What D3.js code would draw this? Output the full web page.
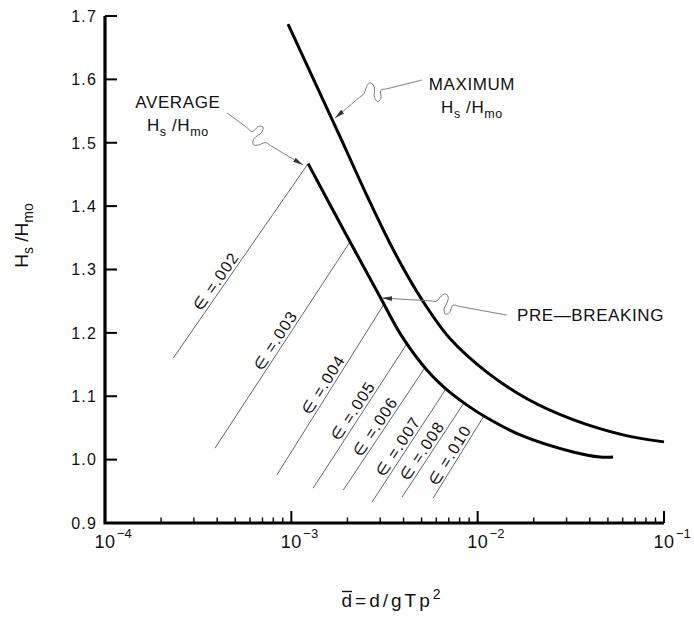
<!DOCTYPE html>
<html>
<head>
<meta charset="utf-8">
<script src="https://cdn.jsdelivr.net/npm/d3@7"></script>
<style>
  html, body { margin: 0; padding: 0; background: #fff; }
  svg { display: block; font-family: "Liberation Sans", Arial, Helvetica, sans-serif; }
</style>
</head>
<body>
<svg id="chart" width="694" height="618"></svg>
<script>
// Significant wave height ratio H_s/H_mo against relative depth d/gTp^2

// Upper envelope: maximum H_s/H_mo
const maximumCurve = [
  [0.00096, 1.687], [0.00183, 1.509], [0.00255, 1.416], [0.0036, 1.326],
  [0.00503, 1.252], [0.0071, 1.191], [0.0112, 1.138], [0.0184, 1.096],
  [0.0325, 1.063], [0.0603, 1.039], [0.1, 1.028]
];

// Lower curve: average H_s/H_mo (pre-breaking)
const averageCurve = [
  [0.00123, 1.467], [0.00201, 1.350], [0.00299, 1.257], [0.00393, 1.194],
  [0.00535, 1.141], [0.00685, 1.110], [0.00877, 1.086], [0.0112, 1.066],
  [0.0169, 1.039], [0.0325, 1.012], [0.0454, 1.004], [0.0533, 1.004]
];

// Constant-steepness lines: label, lower end (d, H_s/H_mo), and the depth where each meets the average curve
const epsilonLabels = [".002", ".003", ".004", ".005", ".006", ".007", ".008", ".010"];
const epsilonStart = [
  [0.000232, 1.160], [0.000389, 1.018], [0.000837, 0.976], [0.00131, 0.955],
  [0.00190, 0.952], [0.00271, 0.933], [0.00393, 0.941], [0.00576, 0.939]
];
const epsilonEndX = [0.00123, 0.002065, 0.003144, 0.00418, 0.005218, 0.00676, 0.008446, 0.01081];

// Axis ticks
const yTicks = [0.9, 1.0, 1.1, 1.2, 1.3, 1.4, 1.5, 1.6, 1.7];
const yTickLabels = ["0.9", "1.0", "1.1", "1.2", "1.3", "1.4", "1.5", "1.6", "1.7"];
const xDecades = [1e-4, 1e-3, 1e-2, 1e-1];
const xDecadeExponents = ["\u22124", "\u22123", "\u22122", "\u22121"];

// Callouts: text lines, anchor of the text (d, H_s/H_mo), and leader start / squiggle / tip
const calloutNames = ["AVERAGE", "MAXIMUM", "PRE-BREAKING"];
const calloutText = [
  [["AVERAGE"], ["H", "s", " /H", "mo"]],
  [["MAXIMUM"], ["H", "s", " /H", "mo"]],
  [["PRE\u2014BREAKING"]]
];
const calloutAnchor = [[0.000246, 1.5548], [0.00932, 1.5832], [0.01626, 1.2187]];
const leaderStart = [[0.000452, 1.547], [0.00503, 1.599], [0.01437, 1.228]];
const leaderKink  = [[0.000662, 1.511], [0.00278, 1.580], [0.00676, 1.2456]];
const leaderTip   = [[0.001155, 1.465], [0.001715, 1.539], [0.003066, 1.255]];

// ---------------------------------------------------------------
const W = 694, H = 618;
const margin = { top: 16, right: 30, bottom: 95, left: 105 };

const svg = d3.select("#chart");

const x = d3.scaleLog().domain([1e-4, 1e-1]).range([margin.left, W - margin.right]);
const y = d3.scaleLinear().domain([0.9, 1.7]).range([H - margin.bottom, margin.top]);

const ink = "#111";
const thin = "#666";

// arrowhead for the leaders
svg.append("defs").append("marker")
  .attr("id", "arrow")
  .attr("viewBox", "0 0 10 6")
  .attr("refX", 10).attr("refY", 3)
  .attr("markerWidth", 10).attr("markerHeight", 6)
  .attr("markerUnits", "userSpaceOnUse")
  .attr("orient", "auto")
  .append("path").attr("d", "M0,0.6 L10,3 L0,5.4 Z").attr("fill", "#333");

// ---- constant-epsilon lines ----
function averageAt(xv) {
  const lx = Math.log10(xv);
  for (let i = 0; i < averageCurve.length - 1; i++) {
    const a = averageCurve[i], b = averageCurve[i + 1];
    const la = Math.log10(a[0]), lb = Math.log10(b[0]);
    if (lx >= la && lx <= lb) return a[1] + (b[1] - a[1]) * (lx - la) / (lb - la);
  }
  return averageCurve[lx < Math.log10(averageCurve[0][0]) ? 0 : averageCurve.length - 1][1];
}

const labelPos = [0.37, 0.5, 0.5, 0.5, 0.48, 0.45, 0.44, 0.47];
const epsG = svg.append("g");
epsilonLabels.forEach((lab, i) => {
  const p0 = [x(epsilonStart[i][0]), y(epsilonStart[i][1])];
  const p1 = [x(epsilonEndX[i]), y(averageAt(epsilonEndX[i]))];
  epsG.append("line")
    .attr("x1", p0[0]).attr("y1", p0[1]).attr("x2", p1[0]).attr("y2", p1[1])
    .attr("stroke", thin).attr("stroke-width", 1);
  const dx = p1[0] - p0[0], dy = p1[1] - p0[1], L = Math.hypot(dx, dy);
  const ux = dx / L, uy = dy / L;
  const t = labelPos[i];
  const off = 3;
  const cx = p0[0] + dx * t + uy * off, cy = p0[1] + dy * t - ux * off;
  const ang = Math.atan2(dy, dx) * 180 / Math.PI;
  epsG.append("text")
    .attr("transform", `translate(${cx},${cy}) rotate(${ang})`)
    .attr("text-anchor", "middle")
    .attr("font-size", 16).attr("letter-spacing", 1.2)
    .attr("fill", ink)
    .text("\u2208 =" + lab);
});

// ---- curves ----
const line = d3.line().x(d => x(d[0])).y(d => y(d[1])).curve(d3.curveCatmullRom.alpha(0.5));
svg.append("path").datum(maximumCurve).attr("d", line)
  .attr("fill", "none").attr("stroke", "#000").attr("stroke-width", 3);
svg.append("path").datum(averageCurve).attr("d", line)
  .attr("fill", "none").attr("stroke", "#000").attr("stroke-width", 3);

// ---- axes ----
const axG = svg.append("g");
const x0 = x(1e-4), x1 = x(1e-1), yB = y(0.9), yT = y(1.7);
axG.append("path")
  .attr("d", `M${x0},${yT} V${yB} H${x1}`)
  .attr("fill", "none").attr("stroke", "#000").attr("stroke-width", 3.2)
  .attr("stroke-linejoin", "miter");

// y ticks (inward) and labels
yTicks.forEach((v, i) => {
  axG.append("line").attr("x1", x0).attr("x2", x0 + 12).attr("y1", y(v)).attr("y2", y(v))
    .attr("stroke", "#000").attr("stroke-width", 2);
  axG.append("text").attr("x", x0 - 8).attr("y", y(v)).attr("dy", "0.36em")
    .attr("text-anchor", "end").attr("font-size", 16).attr("letter-spacing", 1.2)
    .attr("fill", ink).text(yTickLabels[i]);
});

// x ticks: decades long, intermediate values short
const allTicks = x.ticks();
allTicks.forEach(v => {
  const isMajor = xDecades.some(d => Math.abs(v / d - 1) < 1e-6);
  if (Math.abs(v / 1e-4 - 1) < 1e-6) return;
  axG.append("line").attr("x1", x(v)).attr("x2", x(v))
    .attr("y1", yB).attr("y2", yB - (isMajor ? 12 : 5.5))
    .attr("stroke", "#000").attr("stroke-width", isMajor ? 2 : 1.4);
});

xDecades.forEach((d, i) => {
  const base = axG.append("text").attr("x", x(d)).attr("y", yB + 25)
    .attr("text-anchor", "middle").attr("font-size", 18).attr("letter-spacing", 0.5)
    .attr("fill", ink).text("10");
  const w = base.node().getComputedTextLength();
  axG.append("text").attr("x", x(d) + w / 2 + 1.5).attr("y", yB + 15)
    .attr("font-size", 13).attr("fill", ink).text(xDecadeExponents[i]);
});

// ---- axis titles ----
const yTitle = svg.append("text")
  .attr("transform", `translate(${28},${(yT + yB) / 2 - 34}) rotate(-90)`)
  .attr("text-anchor", "middle").attr("font-size", 19).attr("fill", ink);
yTitle.append("tspan").text("H");
yTitle.append("tspan").attr("dy", 5).attr("font-size", 14).text("s");
yTitle.append("tspan").attr("dy", -5).text(" /H");
yTitle.append("tspan").attr("dy", 5).attr("font-size", 14).text("mo");

const xTitle = svg.append("text")
  .attr("x", (x0 + x1) / 2 + 8).attr("y", 607)
  .attr("text-anchor", "middle").attr("font-size", 19).attr("letter-spacing", 3)
  .attr("fill", ink);
xTitle.append("tspan").text("d=d/gTp");
xTitle.append("tspan").attr("dy", -8).attr("font-size", 14).text("2");
const ext = xTitle.node().getExtentOfChar(0);
svg.append("line")
  .attr("x1", ext.x + 0.5).attr("x2", ext.x + ext.width - 3)
  .attr("y1", ext.y + 1.5).attr("y2", ext.y + 1.5)
  .attr("stroke", ink).attr("stroke-width", 1.4);

// ---- callouts ----
const squiggle = [[-14, 0], [-7, 0], [-5, -8], [-1, -10], [1, -5], [-1, 2], [-1, 7], [2, 10], [6, 7], [10, 1]];
const leaderLine = d3.line().curve(d3.curveCatmullRom.alpha(0.5));

calloutNames.forEach((name, i) => {
  const S = [x(leaderStart[i][0]), y(leaderStart[i][1])];
  const M = [x(leaderKink[i][0]), y(leaderKink[i][1])];
  const E = [x(leaderTip[i][0]), y(leaderTip[i][1])];
  const dx = M[0] - S[0], dy = M[1] - S[1], L = Math.hypot(dx, dy);
  const u = [dx / L, dy / L], n = [-u[1], u[0]];
  const pts = [S].concat(squiggle.map(([a, b]) => [M[0] + u[0] * a + n[0] * b, M[1] + u[1] * a + n[1] * b]));
  // head straight for the tip after the squiggle
  const last = pts[pts.length - 1];
  const ex = E[0] - last[0], ey = E[1] - last[1], EL = Math.hypot(ex, ey);
  pts.push([last[0] + ex / EL * 6, last[1] + ey / EL * 6]);
  pts.push(E);
  svg.append("path").attr("d", leaderLine(pts))
    .attr("fill", "none").attr("stroke", "#777").attr("stroke-width", 1)
    .attr("marker-end", "url(#arrow)");

  const ax = x(calloutAnchor[i][0]), ay = y(calloutAnchor[i][1]);
  const lines = calloutText[i];
  const single = lines.length === 1;
  lines.forEach((parts, k) => {
    const t = svg.append("text")
      .attr("x", ax).attr("y", ay + k * 23)
      .attr("text-anchor", single ? "start" : "middle")
      .attr("font-size", 17).attr("letter-spacing", 0.6).attr("fill", ink);
    parts.forEach((p, j) => {
      const sub = j % 2 === 1;
      t.append("tspan")
        .attr("dy", j === 0 ? 0 : (sub ? 5 : -5))
        .attr("font-size", sub ? 12.5 : 17)
        .text(p);
    });
  });
});
</script>
</body>
</html>
